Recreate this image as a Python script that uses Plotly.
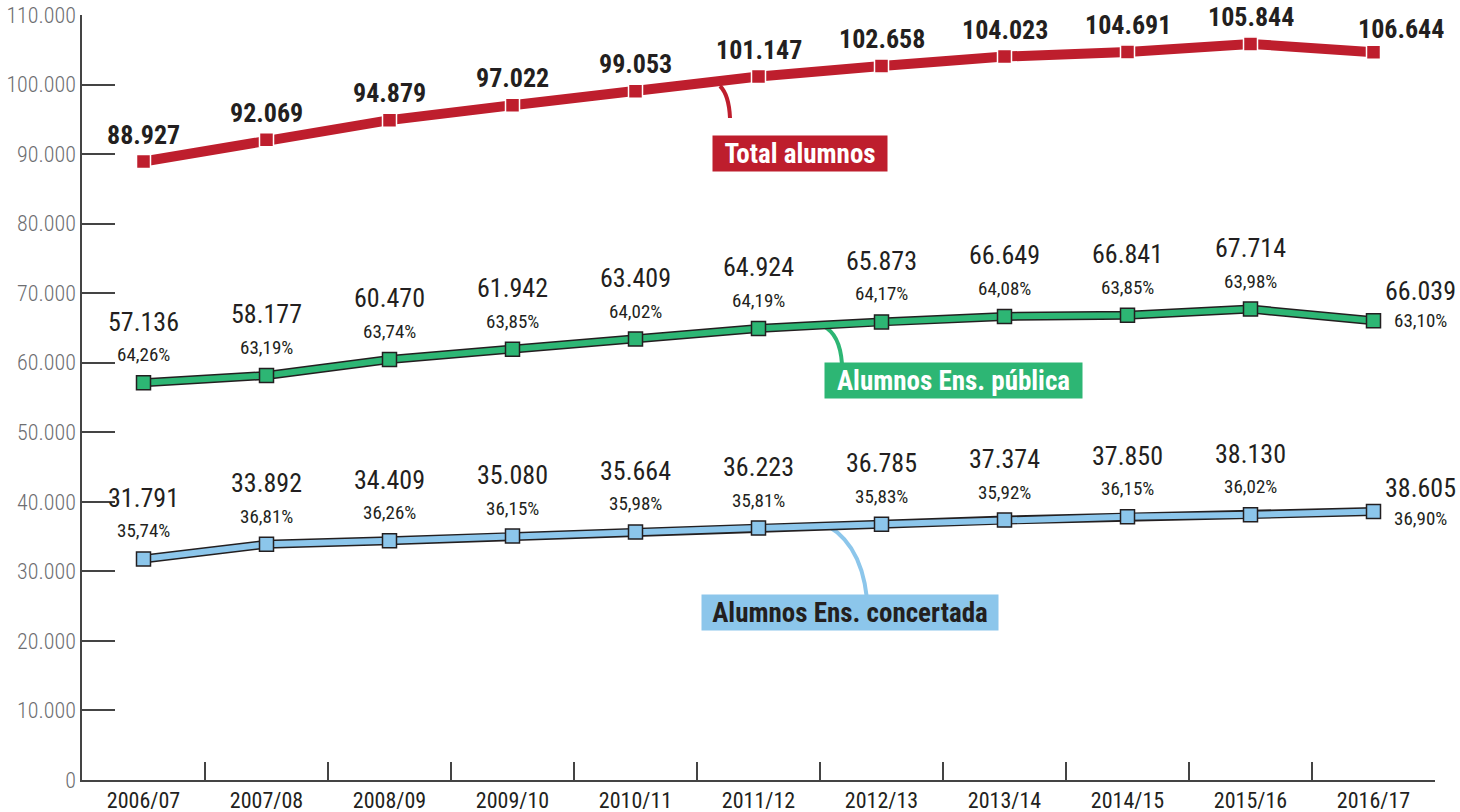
import plotly.graph_objects as go

# ---------------- data ----------------
cursos = ["2006/07", "2007/08", "2008/09", "2009/10", "2010/11", "2011/12",
          "2012/13", "2013/14", "2014/15", "2015/16", "2016/17"]
publica = [57136, 58177, 60470, 61942, 63409, 64924, 65873, 66649, 66841, 67714, 66039]
publica_pct = ["64,26%", "63,19%", "63,74%", "63,85%", "64,02%", "64,19%",
               "64,17%", "64,08%", "63,85%", "63,98%", "63,10%"]
concertada = [31791, 33892, 34409, 35080, 35664, 36223, 36785, 37374, 37850, 38130, 38605]
concertada_pct = ["35,74%", "36,81%", "36,26%", "36,15%", "35,98%", "35,81%",
                  "35,83%", "35,92%", "36,15%", "36,02%", "36,90%"]
total = [88927, 92069, 94879, 97022, 99053, 101147, 102658, 104023, 104691, 105844, 104644]
total_labels = ["88.927", "92.069", "94.879", "97.022", "99.053", "101.147",
                "102.658", "104.023", "104.691", "105.844", "106.644"]

# ---------------- style ----------------
RED = "#BE1E2D"
GREEN = "#2DB674"
BLUE = "#8CC6EB"
DARK = "#231F20"
AXIS = "#444444"
COND = "Roboto Condensed, Liberation Sans Narrow, DejaVu Sans Condensed, Roboto, sans-serif"

W, H = 1460, 812
L, R, T, B = 82, 25, 15, 32
PW, PH = W - L - R, H - T - B


def px(xp):
    return (xp - L) / PW


def py(yp):
    return (H - B - yp) / PH


fig = go.Figure()

# outline lines (dark casing) for publica / concertada
for vals in (publica, concertada):
    fig.add_trace(go.Scatter(x=cursos, y=vals, mode="lines",
                             line=dict(color=DARK, width=9), hoverinfo="skip",
                             showlegend=False))
fig.add_trace(go.Scatter(x=cursos, y=publica, mode="lines+markers",
                         line=dict(color=GREEN, width=6),
                         marker=dict(symbol="square", size=14, color=GREEN,
                                     line=dict(color=DARK, width=1.5)),
                         showlegend=False))
fig.add_trace(go.Scatter(x=cursos, y=concertada, mode="lines+markers",
                         line=dict(color=BLUE, width=6),
                         marker=dict(symbol="square", size=14, color=BLUE,
                                     line=dict(color=DARK, width=1.5)),
                         showlegend=False))
fig.add_trace(go.Scatter(x=cursos, y=total, mode="lines+markers",
                         line=dict(color=RED, width=10),
                         marker=dict(symbol="square", size=14, color=RED,
                                     line=dict(color="white", width=1.5)),
                         showlegend=False))

annotations = []
n = len(cursos)
series_lbl = [(publica, publica_pct, 30, 0), (concertada, concertada_pct, 24, -7)]
for i in range(n):
    last = i == n - 1
    # total labels
    annotations.append(dict(x=cursos[i], y=total[i], text=total_labels[i],
                            showarrow=False, yshift=27 if not last else 23,
                            xshift=0 if not last else 27,
                            font=dict(family=COND, size=26, color=DARK, weight="bold")))
    for vals, pcts, vs_last, ps_last in series_lbl:
        vtxt = f"{vals[i]:,}".replace(",", ".")
        if not last:
            annotations.append(dict(x=cursos[i], y=vals[i], text=vtxt,
                                    showarrow=False, yshift=61,
                                    font=dict(family=COND, size=26, color=DARK)))
            annotations.append(dict(x=cursos[i], y=vals[i], text=pcts[i],
                                    showarrow=False, yshift=28,
                                    font=dict(family=COND, size=19, color=DARK)))
        else:
            annotations.append(dict(x=cursos[i], y=vals[i], text=vtxt,
                                    showarrow=False, yshift=vs_last, xshift=47,
                                    font=dict(family=COND, size=26, color=DARK)))
            annotations.append(dict(x=cursos[i], y=vals[i], text=pcts[i],
                                    showarrow=False, yshift=ps_last, xshift=47,
                                    font=dict(family=COND, size=19, color=DARK)))

# series name boxes
boxes = [("Total alumnos", RED, "white", 800, 134.5, 174, 35),
         ("Alumnos Ens. pública", GREEN, "white", 953.5, 380.5, 257, 35),
         ("Alumnos Ens. concertada", BLUE, DARK, 999, 630.5, 296, 35)]
for text, bg, fc, cx, cy, bw, bh in boxes:
    annotations.append(dict(xref="paper", yref="paper", x=px(cx), y=py(cy),
                            text=text, showarrow=False, bgcolor=bg,
                            width=bw, height=bh, borderpad=0,
                            font=dict(family=COND, size=27, color=fc, weight="bold")))

# connector curves
curves = [(RED, (720, 86), (729, 95), (730, 118)),
          (GREEN, (823, 326), (840, 334), (842, 364)),
          (BLUE, (828, 526), (866, 548), (868, 614))]
shapes = []
for col, p0, c, p1 in curves:
    path = f"M {px(p0[0])},{py(p0[1])} Q {px(c[0])},{py(c[1])} {px(p1[0])},{py(p1[1])}"
    shapes.append(dict(type="path", xref="paper", yref="paper", path=path,
                       line=dict(color=col, width=4), layer="below"))

fig.update_layout(
    width=W, height=H,
    margin=dict(l=L, r=R, t=T, b=B, autoexpand=False),
    paper_bgcolor="white", plot_bgcolor="white",
    separators=",.",
    annotations=annotations, shapes=shapes,
    xaxis=dict(type="category", range=[-0.5, n - 0.5], showgrid=False, zeroline=False,
               automargin=False,
               showline=True, linecolor=AXIS, linewidth=1.5,
               ticks="inside", ticklen=18, tickcolor=AXIS, tickwidth=1.5,
               tickson="boundaries",
               tickfont=dict(family=COND, size=22, color=DARK)),
    yaxis=dict(range=[0, 110000], tickvals=list(range(0, 110001, 10000)),
               tickformat=",d", showgrid=False, zeroline=False,
               automargin=False,
               showline=True, linecolor=AXIS, linewidth=1.5,
               ticks="inside", ticklen=33, tickcolor=AXIS, tickwidth=1.5,
               tickfont=dict(family=COND, size=22, color="#6D6E71", weight=300)),
)

fig.write_html("out.html", config={"displayModeBar": False},
               post_script="document.body.style.margin='0px';document.body.style.padding='0px';")
